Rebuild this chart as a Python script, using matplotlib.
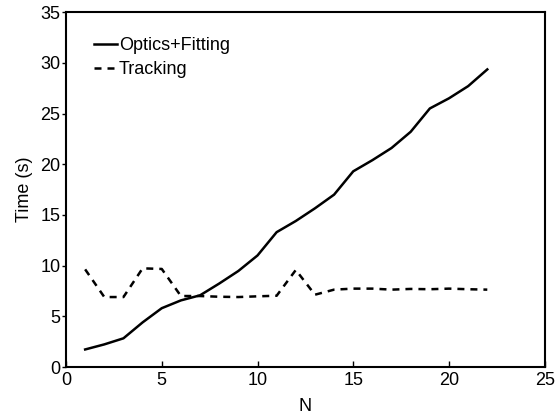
import numpy as np
import matplotlib
matplotlib.use("Agg")
import matplotlib.pyplot as plt

plt.rcParams["font.family"] = ["Liberation Sans", "DejaVu Sans"]

n = [1, 2, 3, 4, 5, 6, 7, 8, 9, 10, 11, 12, 13, 14, 15, 16, 17, 18, 19, 20, 21, 22]
optics_fitting = [1.73, 2.23, 2.83, 4.4, 5.8, 6.57, 7.07, 8.23, 9.47, 11.0, 13.3, 14.4,
                  15.65, 17.0, 19.3, 20.4, 21.6, 23.2, 25.5, 26.5, 27.7, 29.35]
tracking = [9.63, 6.9, 6.9, 9.73, 9.67, 7.0, 7.0, 6.93, 6.9, 6.97, 7.03, 9.57,
            7.13, 7.63, 7.73, 7.73, 7.63, 7.7, 7.67, 7.73, 7.67, 7.63]

fig = plt.figure(figsize=(5.57, 4.18), dpi=100)
ax = fig.add_axes([0.1185, 0.122, 0.8595, 0.849])

ax.plot(n, optics_fitting, color="k", linewidth=1.8, label="Optics+Fitting")
ax.plot(n, tracking, color="k", linewidth=1.8, linestyle=(0, (2.8, 2.4)), label="Tracking")

ax.set_xlim(0, 25)
ax.set_ylim(0, 35)
ax.set_xticks([0, 5, 10, 15, 20, 25])
ax.set_yticks([0, 5, 10, 15, 20, 25, 30, 35])
ax.tick_params(axis="x", direction="in", length=4, width=1, labelsize=13, pad=3.5)
ax.tick_params(axis="y", direction="out", length=3, width=1, labelsize=13, pad=1)
for s in ax.spines.values():
    s.set_linewidth(1.5)

ax.set_xlabel("N", fontsize=13, labelpad=6.5)
ax.set_ylabel("Time (s)", fontsize=13, labelpad=5.5)

leg = ax.legend(loc="upper left", bbox_to_anchor=(0.005, 1.0), frameon=False,
                fontsize=13, handlelength=1.28, handletextpad=0.12,
                labelspacing=0.36, borderaxespad=1.0)

fig.savefig("out.png", dpi=100)
